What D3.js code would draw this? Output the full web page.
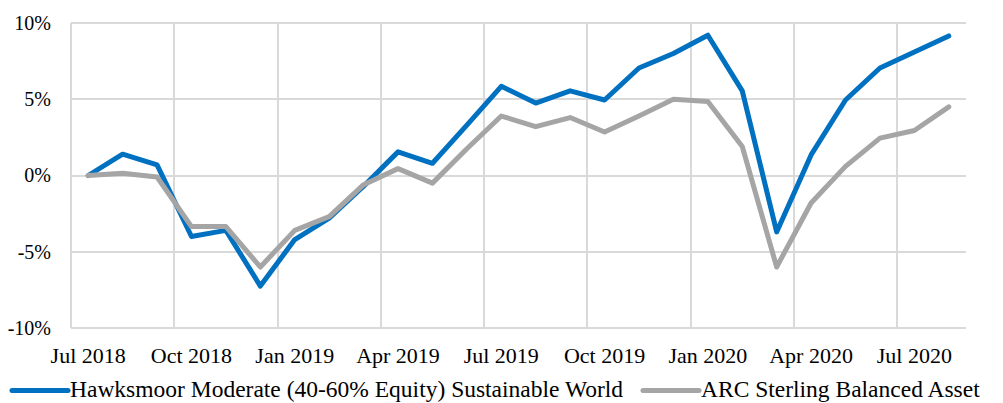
<!DOCTYPE html>
<html>
	<head>
		<meta charset="utf-8">
		<title>Hawksmoor vs ARC</title>
		<style>
			body { margin: 0; background: #fff; }
			text { font-family: "Liberation Serif", "Times New Roman", serif; fill: #000; }
			.grid line { stroke: #d9d9d9; stroke-width: 2; shape-rendering: crispEdges; }
		</style>
		<script src="https://d3js.org/d3.v7.min.js"></script>
	</head>
	<body>
		<div id="chart"></div>
		<script>
			// data
			var months = ["Jul 2018","Aug 2018","Sep 2018","Oct 2018","Nov 2018","Dec 2018",
				"Jan 2019","Feb 2019","Mar 2019","Apr 2019","May 2019","Jun 2019",
				"Jul 2019","Aug 2019","Sep 2019","Oct 2019","Nov 2019","Dec 2019",
				"Jan 2020","Feb 2020","Mar 2020","Apr 2020","May 2020","Jun 2020",
				"Jul 2020","Aug 2020"];
			var hawksmoor = [0, 1.4, 0.7, -4.0, -3.6, -7.25, -4.2, -2.8, -0.7, 1.55, 0.8, 3.3,
				5.85, 4.75, 5.55, 4.95, 7.05, 8.0, 9.2, 5.55, -3.7, 1.35, 4.95, 7.05, 8.1, 9.15];
			var arc = [0, 0.15, -0.1, -3.35, -3.35, -6.0, -3.6, -2.7, -0.6, 0.45, -0.5, 1.75,
				3.9, 3.2, 3.8, 2.85, 3.9, 5.0, 4.85, 1.9, -6.0, -1.8, 0.6, 2.45, 2.95, 4.5];
			var yTicks = [-10, -5, 0, 5, 10];
			var xTickMonths = ["Jul 2018","Oct 2018","Jan 2019","Apr 2019","Jul 2019",
				"Oct 2019","Jan 2020","Apr 2020","Jul 2020"];
			var seriesNames = ["Hawksmoor Moderate (40-60% Equity) Sustainable World",
				"ARC Sterling Balanced Asset"];
			var colors = ["#0070c0", "#a5a5a5"];

			var width = 1003, height = 403;
			var plotLeft = 71, plotRight = 966, plotTop = 23, plotBottom = 328;

			var svg = d3.select("#chart").append("svg")
				.attr("width", width)
				.attr("height", height);

			var x = d3.scaleBand()
				.domain(months)
				.range([plotLeft, plotRight])
				.padding(0);

			var y = d3.scaleLinear()
				.domain([-10, 10])
				.range([plotBottom, plotTop]);

			// horizontal grid
			var grid = svg.append("g").attr("class", "grid");
			grid.selectAll("line.h")
				.data(yTicks)
				.enter().append("line")
				.attr("class", "h")
				.attr("x1", plotLeft)
				.attr("x2", plotRight)
				.attr("y1", function(d) { return y(d); })
				.attr("y2", function(d) { return y(d); });

			// vertical grid at start of each labelled quarter
			grid.selectAll("line.v")
				.data(xTickMonths)
				.enter().append("line")
				.attr("class", "v")
				.attr("x1", function(d) { return x(d); })
				.attr("x2", function(d) { return x(d); })
				.attr("y1", plotTop)
				.attr("y2", plotBottom);

			// y axis labels
			var yAxis = d3.axisLeft(y)
				.tickValues(yTicks)
				.tickSize(0)
				.tickPadding(0)
				.tickFormat(function(d) { return d + "%"; });
			svg.append("g")
				.attr("transform", "translate(" + (plotLeft - 20) + ",0)")
				.call(yAxis)
				.attr("font-family", null)
				.call(function(g) { g.select(".domain").remove(); })
				.selectAll("text")
				.attr("font-size", 20)
				.attr("fill", "#000");

			// x axis labels
			var xAxis = d3.axisBottom(x)
				.tickValues(xTickMonths)
				.tickSize(0)
				.tickPadding(0);
			svg.append("g")
				.attr("transform", "translate(0," + (plotBottom + 19) + ")")
				.call(xAxis)
				.attr("font-family", null)
				.call(function(g) { g.select(".domain").remove(); })
				.selectAll("text")
				.attr("font-size", 22)
				.attr("fill", "#000");

			// lines (grey series sits on top, as in the original)
			var line = d3.line()
				.x(function(d, i) { return x(months[i]) + x.bandwidth() / 2; })
				.y(function(d) { return y(d); });

			[hawksmoor, arc].forEach(function(s, k) {
				svg.append("path")
					.datum(s)
					.attr("fill", "none")
					.attr("stroke", colors[k])
					.attr("stroke-width", 5)
					.attr("stroke-linejoin", "round")
					.attr("stroke-linecap", "round")
					.attr("d", line);
			});

			// legend
			var legend = svg.append("g").attr("class", "legend");
			var legendX = [12, 643];
			seriesNames.forEach(function(name, i) {
				legend.append("line")
					.attr("x1", legendX[i])
					.attr("x2", legendX[i] + 56)
					.attr("y1", 390.5)
					.attr("y2", 390.5)
					.attr("stroke", colors[i])
					.attr("stroke-width", 5)
					.attr("stroke-linecap", "round");
				legend.append("text")
					.attr("x", legendX[i] + 58)
					.attr("y", 397)
					.attr("font-size", 23.5)
					.text(name);
			});
		</script>
	</body>
</html>
